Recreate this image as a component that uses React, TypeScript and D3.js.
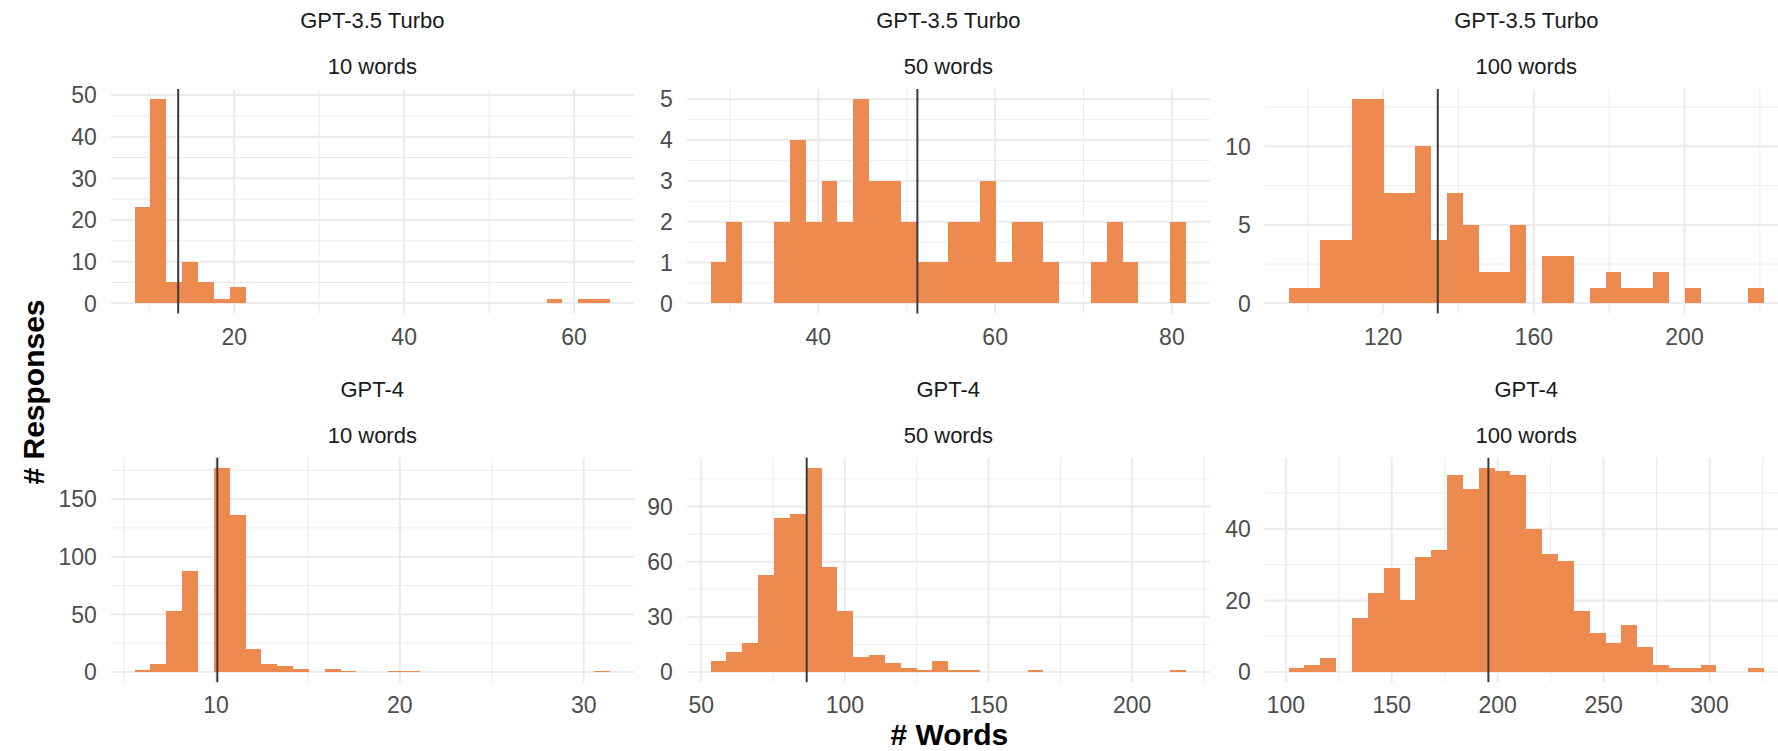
import React from "react";
import * as d3 from "d3";

// ---- data ----
const models = ["GPT-3.5 Turbo", "GPT-4"];
const lengths = ["10 words", "50 words", "100 words"];

// histogram counts, 30 bins each
const gpt35Counts10 = [23, 49, 5, 10, 5, 1, 4, 0, 0, 0, 0, 0, 0, 0, 0, 0, 0, 0, 0, 0, 0, 0, 0, 0, 0, 0, 1, 0, 1, 1];
const gpt35Counts50 = [1, 2, 0, 0, 2, 4, 2, 3, 2, 5, 3, 3, 2, 1, 1, 2, 2, 3, 1, 2, 2, 1, 0, 0, 1, 2, 1, 0, 0, 2];
const gpt35Counts100 = [1, 1, 4, 4, 13, 13, 7, 7, 10, 4, 7, 5, 2, 2, 5, 0, 3, 3, 0, 1, 2, 1, 1, 2, 0, 1, 0, 0, 0, 1];
const gpt4Counts10 = [2, 7, 53, 88, 0, 177, 136, 20, 7, 5, 3, 0, 3, 1, 0, 0, 1, 1, 0, 0, 0, 0, 0, 0, 0, 0, 0, 0, 0, 1];
const gpt4Counts50 = [6, 11, 16, 53, 84, 86, 111, 57, 33, 8, 9, 5, 2, 1, 6, 1, 1, 0, 0, 0, 1, 0, 0, 0, 0, 0, 0, 0, 0, 1];
const gpt4Counts100 = [1, 2, 4, 0, 15, 22, 29, 20, 32, 34, 55, 51, 57, 56, 55, 40, 33, 31, 17, 11, 8, 13, 7, 2, 1, 1, 2, 0, 0, 1];

// min / max word count of each panel (bin centres of first and last bin)
const gpt35Ranges = [[9.2, 63.3], [28.7, 80.7], [97, 219]];
const gpt4Ranges = [[6, 31], [56, 216], [105, 322]];

// mean word count (vertical line)
const gpt35Means = [13.4, 51.2, 134.5];
const gpt4Means = [10.07, 86.7, 195.6];

// axis breaks
const gpt35XTicks = [[20, 40, 60], [40, 60, 80], [120, 160, 200]];
const gpt4XTicks = [[10, 20, 30], [50, 100, 150, 200], [100, 150, 200, 250, 300]];
const gpt35YTicks = [[0, 10, 20, 30, 40, 50], [0, 1, 2, 3, 4, 5], [0, 5, 10]];
const gpt4YTicks = [[0, 50, 100, 150], [0, 30, 60, 90], [0, 20, 40]];

// ---- layout ----
const WIDTH = 1778;
const HEIGHT = 751;
const PANEL_LEFTS = [110.8, 686.8, 1264.8];
const PANEL_W = 523;
const PANEL_TOPS = [89, 457.7];
const PANEL_H = 224.5;

const BAR = "#EC8A50";
const GRID = "#EBEBEB";
const FONT = "'Liberation Sans', Arial, Helvetica, sans-serif";

function minorBreaks(majors: number[], domain: number[]) {
  const step = majors[1] - majors[0];
  const ext = [majors[0] - step, ...majors, majors[majors.length - 1] + step];
  const mids = ext.slice(1).map((v, i) => (v + ext[i]) / 2);
  return mids.filter((v) => v >= domain[0] && v <= domain[1]);
}

type PanelDef = {
  model: string;
  length: string;
  counts: number[];
  range: number[];
  mean: number;
  xTicks: number[];
  yTicks: number[];
  row: number;
  col: number;
};

const panels: PanelDef[] = [];
const allCounts = [
  [gpt35Counts10, gpt35Counts50, gpt35Counts100],
  [gpt4Counts10, gpt4Counts50, gpt4Counts100],
];
const allRanges = [gpt35Ranges, gpt4Ranges];
const allMeans = [gpt35Means, gpt4Means];
const allXTicks = [gpt35XTicks, gpt4XTicks];
const allYTicks = [gpt35YTicks, gpt4YTicks];
models.forEach((m, r) => {
  lengths.forEach((l, c) => {
    panels.push({
      model: m,
      length: l,
      counts: allCounts[r][c],
      range: allRanges[r][c],
      mean: allMeans[r][c],
      xTicks: allXTicks[r][c],
      yTicks: allYTicks[r][c],
      row: r,
      col: c,
    });
  });
});

function Panel({ p }: { p: PanelDef }) {
  const left = PANEL_LEFTS[p.col];
  const top = PANEL_TOPS[p.row];
  const bottom = top + PANEL_H;
  const right = left + PANEL_W;
  const nb = p.counts.length;
  const binW = (p.range[1] - p.range[0]) / (nb - 1);
  const b0 = p.range[0] - binW / 2;
  const b1 = p.range[1] + binW / 2;
  const pad = (b1 - b0) * 0.05;
  const xDom = [b0 - pad, b1 + pad];
  const x = d3.scaleLinear().domain(xDom).range([left, right]);
  const ymax = d3.max(p.counts) as number;
  const yDom = [-0.05 * ymax, 1.05 * ymax];
  const y = d3.scaleLinear().domain(yDom).range([bottom, top]);
  const xMinor = minorBreaks(p.xTicks, xDom);
  const yMinor = minorBreaks(p.yTicks, yDom);
  const cx = (left + right) / 2;
  return (
    <g>
      <text x={cx} y={top - 61} textAnchor="middle" fontSize={22} fill="#1A1A1A">
        {p.model}
      </text>
      <text x={cx} y={top - 15} textAnchor="middle" fontSize={22} fill="#1A1A1A">
        {p.length}
      </text>
      {yMinor.map((v) => (
        <line key={"ym" + v} x1={left} x2={right} y1={y(v)} y2={y(v)} stroke={GRID} strokeWidth={1} />
      ))}
      {xMinor.map((v) => (
        <line key={"xm" + v} x1={x(v)} x2={x(v)} y1={top} y2={bottom} stroke={GRID} strokeWidth={1} />
      ))}
      {p.yTicks.map((v) => (
        <line key={"yM" + v} x1={left} x2={right} y1={y(v)} y2={y(v)} stroke={GRID} strokeWidth={2} />
      ))}
      {p.xTicks.map((v) => (
        <line key={"xM" + v} x1={x(v)} x2={x(v)} y1={top} y2={bottom} stroke={GRID} strokeWidth={2} />
      ))}
      {p.counts.map((c, i) =>
        c > 0 ? (
          <rect
            key={"b" + i}
            x={x(b0 + i * binW)}
            width={x(b0 + (i + 1) * binW) - x(b0 + i * binW)}
            y={y(c)}
            height={y(0) - y(c)}
            fill={BAR}
            shapeRendering="crispEdges"
          />
        ) : null
      )}
      <line x1={x(p.mean)} x2={x(p.mean)} y1={top} y2={bottom} stroke="#3A3A3A" strokeWidth={2} />
      {p.yTicks.map((v) => (
        <text key={"yl" + v} x={left - 14} y={y(v)} dy="0.36em" textAnchor="end" fontSize={23} fill="#4D4D4D">
          {v}
        </text>
      ))}
      {p.xTicks.map((v) => (
        <text key={"xl" + v} x={x(v)} y={bottom + 31} textAnchor="middle" fontSize={23} fill="#4D4D4D">
          {v}
        </text>
      ))}
    </g>
  );
}

export default function App() {
  const xTitleX = (PANEL_LEFTS[0] + PANEL_LEFTS[2] + PANEL_W) / 2;
  const yTitleY = 392;
  return (
    <svg
      width={WIDTH}
      height={HEIGHT}
      style={{ position: "absolute", left: 0, top: 0, background: "#fff" }}
      fontFamily={FONT}
    >
      <rect x={0} y={0} width={WIDTH} height={HEIGHT} fill="#fff" />
      {panels.map((p) => (
        <Panel key={p.row + "-" + p.col} p={p} />
      ))}
      <text x={xTitleX} y={745} textAnchor="middle" fontSize={30} fontWeight="bold" fill="#000">
        # Words
      </text>
      <text
        transform={`translate(44,${yTitleY}) rotate(-90)`}
        textAnchor="middle"
        fontSize={30}
        fontWeight="bold"
        fill="#000"
      >
        # Responses
      </text>
    </svg>
  );
}
